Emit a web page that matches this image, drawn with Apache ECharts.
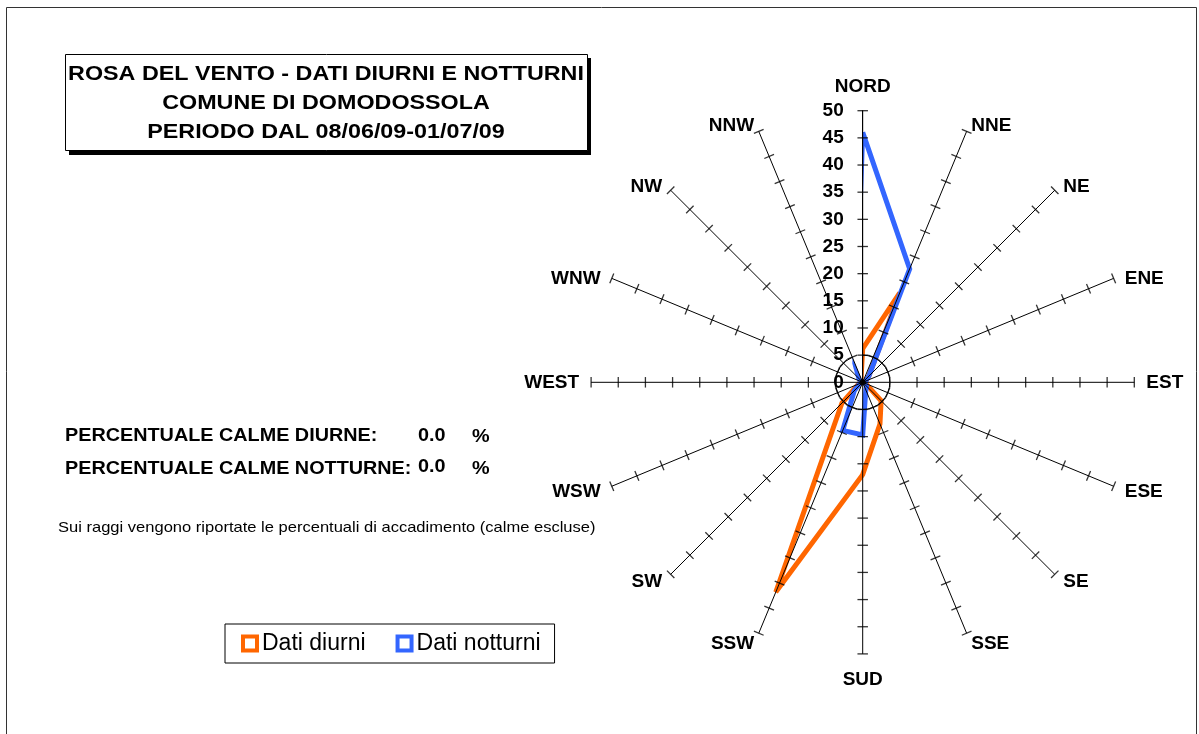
<!DOCTYPE html>
<html>
<head>
<meta charset="utf-8">
<script src="https://cdn.jsdelivr.net/npm/echarts/dist/echarts.min.js"></script>
<style>
html,body{margin:0;padding:0;background:#fff;}
#chart{width:1199px;height:734px;}
</style>
</head>
<body>
<div id="chart"></div>
<script>
// ---- data ----
const directions = ['NORD','NNE','NE','ENE','EST','ESE','SE','SSE','SUD','SSW','SW','WSW','WEST','WNW','NW','NNW'];
const diurni   = [6.2, 17.8, 1.6, 0.6, 0.4, 0.6, 4.8, 8.3, 17.0, 41.8, 5.4, 0.8, 0.3, 0.3, 0.4, 0.8];
const notturni = [46.0, 22.6, 1.6, 0.6, 0.3, 0.4, 1.0, 1.5, 9.7, 9.6, 2.2, 0.6, 0.3, 0.4, 1.0, 3.8];
const radiusTicks = [0, 5, 10, 15, 20, 25, 30, 35, 40, 45, 50];
const calmeDiurne = '0.0';
const calmeNotturne = '0.0';
const titleLines = ['ROSA DEL VENTO - DATI DIURNI E NOTTURNI', 'COMUNE DI DOMODOSSOLA', 'PERIODO DAL 08/06/09-01/07/09'];
const noteText = 'Sui raggi vengono riportate le percentuali di accadimento (calme escluse)';

const FONT = '"Liberation Sans", Arial, sans-serif';
const ORANGE = '#ff6600';
const BLUE = '#3366ff';

function closed(values) {
  const pts = values.map((v, i) => [v, directions[i]]);
  pts.push([values[0], directions[0]]);
  return pts;
}

const tickData = [];
directions.forEach((d, i) => {
  radiusTicks.filter(t => t > 0).forEach(t => {
    tickData.push({ value: [t, d], symbolRotate: -i * 360 / directions.length });
  });
});

// label style groups (placement only)
const upperLabels = ['NNE', 'NE', 'ENE', 'WNW', 'NW', 'NNW'];
const lowerLabels = ['SE', 'SSE', 'SSW', 'SW'];
function labelRich(pad) {
  return { fontFamily: FONT, fontWeight: 'bold', fontSize: 19, color: '#000', lineHeight: 1, padding: pad };
}

const chart = echarts.init(document.getElementById('chart'), null, { renderer: 'canvas' });

const option = {
  animation: false,
  backgroundColor: '#ffffff',
  polar: { center: [862.7, 382.3], radius: 271.6 },
  angleAxis: {
    type: 'category',
    data: directions,
    startAngle: 90,
    clockwise: true,
    boundaryGap: false,
    z: 10,
    axisLine: { show: false },
    axisTick: { show: false },
    splitLine: { show: true, lineStyle: { color: '#000', width: 1 } },
    axisLabel: {
      interval: 0,
      margin: 12,
      color: '#000',
      fontFamily: FONT,
      fontWeight: 'bold',
      fontSize: 19,
      lineHeight: 1,
      formatter: function (v) {
        if (v === 'NORD') return '{n|' + v + '}';
        if (v === 'SUD') return '{s|' + v + '}';
        if (upperLabels.indexOf(v) >= 0) return '{u|' + v + '}';
        if (lowerLabels.indexOf(v) >= 0) return '{l|' + v + '}';
        return v;
      },
      rich: {
        n: labelRich([0, 0, 22, 0]),
        s: labelRich([27, 0, 0, 0]),
        u: labelRich([11, 0, 0, 0]),
        l: labelRich([0, 0, 3, 0])
      }
    }
  },
  radiusAxis: {
    type: 'value',
    min: 0,
    max: 50,
    interval: 5,
    z: 10,
    axisLine: { show: true, lineStyle: { color: '#000', width: 1 } },
    axisTick: { show: false },
    axisLabel: {
      show: true,
      margin: 19,
      showMinLabel: true,
      showMaxLabel: true,
      color: '#000',
      fontFamily: FONT,
      fontWeight: 'bold',
      fontSize: 19
    },
    splitLine: {
      show: true,
      lineStyle: { color: radiusTicks.map(t => (t === 5 ? '#000' : 'rgba(0,0,0,0)')), width: 1 }
    }
  },
  legend: {
    left: 225,
    top: 624,
    orient: 'horizontal',
    selectedMode: false,
    icon: 'rect',
    itemWidth: 14,
    itemHeight: 14,
    itemGap: 30,
    borderColor: '#000',
    borderWidth: 1,
    padding: [8, 14, 8, 16],
    textStyle: { fontFamily: FONT, fontSize: 23, color: '#000' },
    data: [
      { name: 'Dati diurni', itemStyle: { color: '#fff', borderColor: ORANGE, borderWidth: 4 } },
      { name: 'Dati notturni', itemStyle: { color: '#fff', borderColor: BLUE, borderWidth: 4 } }
    ]
  },
  graphic: [
    { type: 'polyline', silent: true, shape: { points: [[6.5, 760], [6.5, 7.5], [1196.5, 7.5], [1196.5, 760]] },
      style: { stroke: '#333', lineWidth: 1, fill: null } },
    { type: 'rect', silent: true, shape: { x: 69, y: 58, width: 522, height: 97 }, style: { fill: '#000' } },
    { type: 'rect', silent: true, shape: { x: 65.5, y: 54.5, width: 522, height: 96 },
      style: { fill: '#fff', stroke: '#000', lineWidth: 1 } },
    { type: 'text', silent: true, x: 326, y: 103.3, scaleX: 1.11,
      style: { text: titleLines.join('\n'), font: 'bold 21px ' + FONT, lineHeight: 29, fill: '#000', align: 'center', verticalAlign: 'middle' } },
    { type: 'text', silent: true, x: 65, y: 435.5, scaleX: 1.07,
      style: { text: 'PERCENTUALE CALME DIURNE:', font: 'bold 18.5px ' + FONT, fill: '#000', align: 'left', verticalAlign: 'middle' } },
    { type: 'text', silent: true, x: 418, y: 436, scaleX: 1.07,
      style: { text: calmeDiurne, font: 'bold 18.5px ' + FONT, fill: '#000', align: 'left', verticalAlign: 'middle' } },
    { type: 'text', silent: true, x: 472, y: 436.5, scaleX: 1.07,
      style: { text: '%', font: 'bold 18.5px ' + FONT, fill: '#000', align: 'left', verticalAlign: 'middle' } },
    { type: 'text', silent: true, x: 65, y: 468.5, scaleX: 1.07,
      style: { text: 'PERCENTUALE CALME NOTTURNE:', font: 'bold 18.5px ' + FONT, fill: '#000', align: 'left', verticalAlign: 'middle' } },
    { type: 'text', silent: true, x: 418, y: 466.5, scaleX: 1.07,
      style: { text: calmeNotturne, font: 'bold 18.5px ' + FONT, fill: '#000', align: 'left', verticalAlign: 'middle' } },
    { type: 'text', silent: true, x: 472, y: 469, scaleX: 1.07,
      style: { text: '%', font: 'bold 18.5px ' + FONT, fill: '#000', align: 'left', verticalAlign: 'middle' } },
    { type: 'text', silent: true, x: 58, y: 528, scaleX: 1.14,
      style: { text: noteText, font: '14.5px ' + FONT, fill: '#000', align: 'left', verticalAlign: 'middle' } }
  ],
  series: [
    {
      name: 'Dati diurni',
      type: 'line',
      coordinateSystem: 'polar',
      data: closed(diurni),
      symbol: 'none',
      z: 3,
      lineStyle: { color: ORANGE, width: 5, join: 'miter', miterLimit: 4 },
      itemStyle: { color: ORANGE }
    },
    {
      name: 'Dati notturni',
      type: 'line',
      coordinateSystem: 'polar',
      data: closed(notturni),
      symbol: 'none',
      z: 4,
      lineStyle: { color: BLUE, width: 5, join: 'miter', miterLimit: 4 },
      itemStyle: { color: BLUE }
    },
    {
      name: 'ticks',
      type: 'scatter',
      coordinateSystem: 'polar',
      silent: true,
      z: 12,
      symbol: 'rect',
      symbolSize: [10.5, 1.3],
      itemStyle: { color: '#000' },
      data: tickData
    },
    {
      name: 'centro',
      type: 'scatter',
      coordinateSystem: 'polar',
      silent: true,
      z: 12,
      symbol: 'circle',
      symbolSize: 6,
      itemStyle: { color: '#000' },
      data: [[0, directions[0]]]
    }
  ]
};

chart.setOption(option);
</script>
</body>
</html>
